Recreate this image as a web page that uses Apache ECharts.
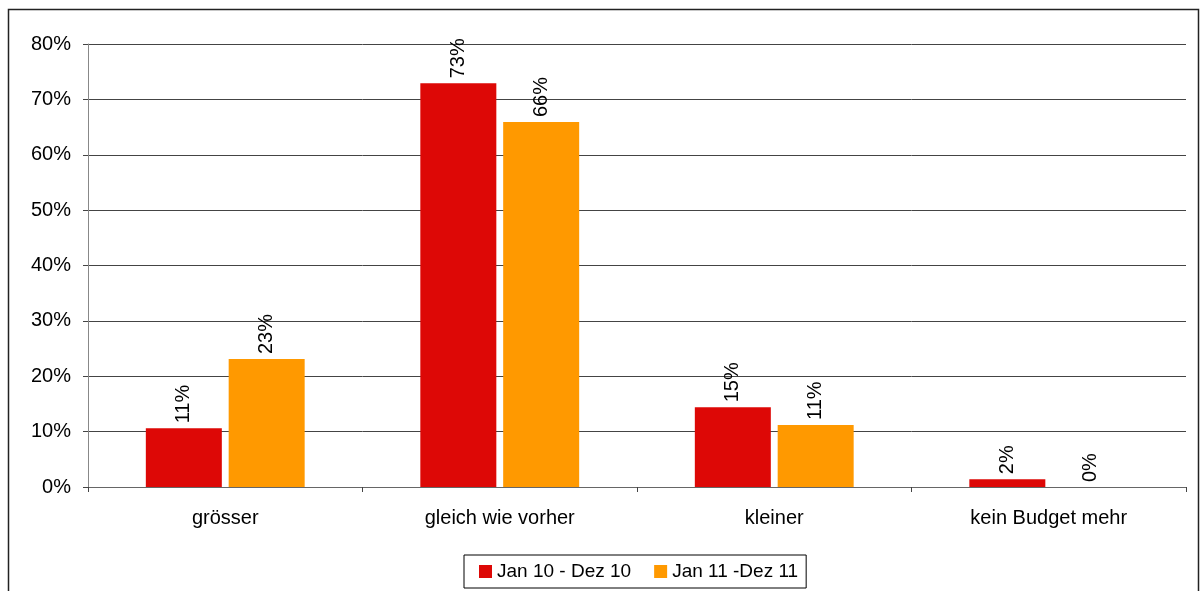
<!DOCTYPE html>
<html>
<head>
<meta charset="utf-8">
<script src="https://cdn.jsdelivr.net/npm/echarts@6/dist/echarts.min.js"></script>
<style>
html,body{margin:0;padding:0;background:#fff;}
#main{width:1201px;height:591px;}
</style>
</head>
<body>
<div id="main"></div>
<script>
var categories = ['grösser', 'gleich wie vorher', 'kleiner', 'kein Budget mehr'];
var seriesNames = ['Jan 10 - Dez 10', 'Jan 11 -Dez 11'];
var values2010 = [10.6, 72.9, 14.4, 1.4];
var values2011 = [23.1, 65.9, 11.2, 0];
var labels2010 = ['11%', '73%', '15%', '2%'];
var labels2011 = ['23%', '66%', '11%', '0%'];
var yTicks = [0, 10, 20, 30, 40, 50, 60, 70, 80];

var chart = echarts.init(document.getElementById('main'));
var font = 'Liberation Sans, Arial, sans-serif';

function labelCfg(labels) {
  return {
    show: true,
    position: 'top',
    rotate: 90,
    align: 'left',
    verticalAlign: 'middle',
    distance: 5,
    color: '#000',
    fontFamily: font,
    fontSize: 20,
    formatter: function (p) { return labels[p.dataIndex]; }
  };
}

chart.setOption({
  backgroundColor: '#fff',
  animation: false,
  graphic: [{
    type: 'rect',
    shape: { x: 8.5, y: 9.5, width: 1190, height: 600 },
    style: { fill: 'none', stroke: '#222', lineWidth: 1.5 },
    z: -1
  }],
  grid: { left: 88, right: 15, top: 44, bottom: 104 },
  legend: {
    data: seriesNames,
    left: 464,
    top: 555,
    padding: [7, 8, 7, 15],
    itemGap: 23,
    itemWidth: 13,
    itemHeight: 13,
    icon: 'rect',
    borderColor: '#000',
    borderWidth: 1,
    textStyle: { color: '#000', fontFamily: font, fontSize: 19, padding: [0, 0, 0, 0] },
    formatter: function (n) { return n; }
  },
  xAxis: {
    type: 'category',
    data: categories,
    axisLine: { show: true, lineStyle: { color: '#666', width: 1 } },
    axisTick: { show: true, length: 5, alignWithLabel: false, lineStyle: { color: '#444' } },
    axisLabel: { color: '#000', fontFamily: font, fontSize: 20, margin: 21 }
  },
  yAxis: {
    type: 'value',
    min: yTicks[0],
    max: yTicks[yTicks.length - 1],
    interval: 10,
    axisLine: { show: true, lineStyle: { color: '#888', width: 1 } },
    axisTick: { show: true, length: 5, lineStyle: { color: '#444' } },
    axisLabel: { color: '#000', fontFamily: font, fontSize: 20, margin: 17, formatter: '{value}%' },
    splitLine: { show: true, lineStyle: { color: '#444', width: 1 } }
  },
  series: [
    {
      name: seriesNames[0],
      type: 'bar',
      data: values2010,
      barWidth: 76,
      barGap: '9%',
      itemStyle: { color: '#DD0806' },
      label: labelCfg(labels2010)
    },
    {
      name: seriesNames[1],
      type: 'bar',
      data: values2011,
      barWidth: 76,
      barGap: '9%',
      itemStyle: { color: '#FF9900' },
      label: labelCfg(labels2011)
    }
  ]
});
</script>
</body>
</html>
